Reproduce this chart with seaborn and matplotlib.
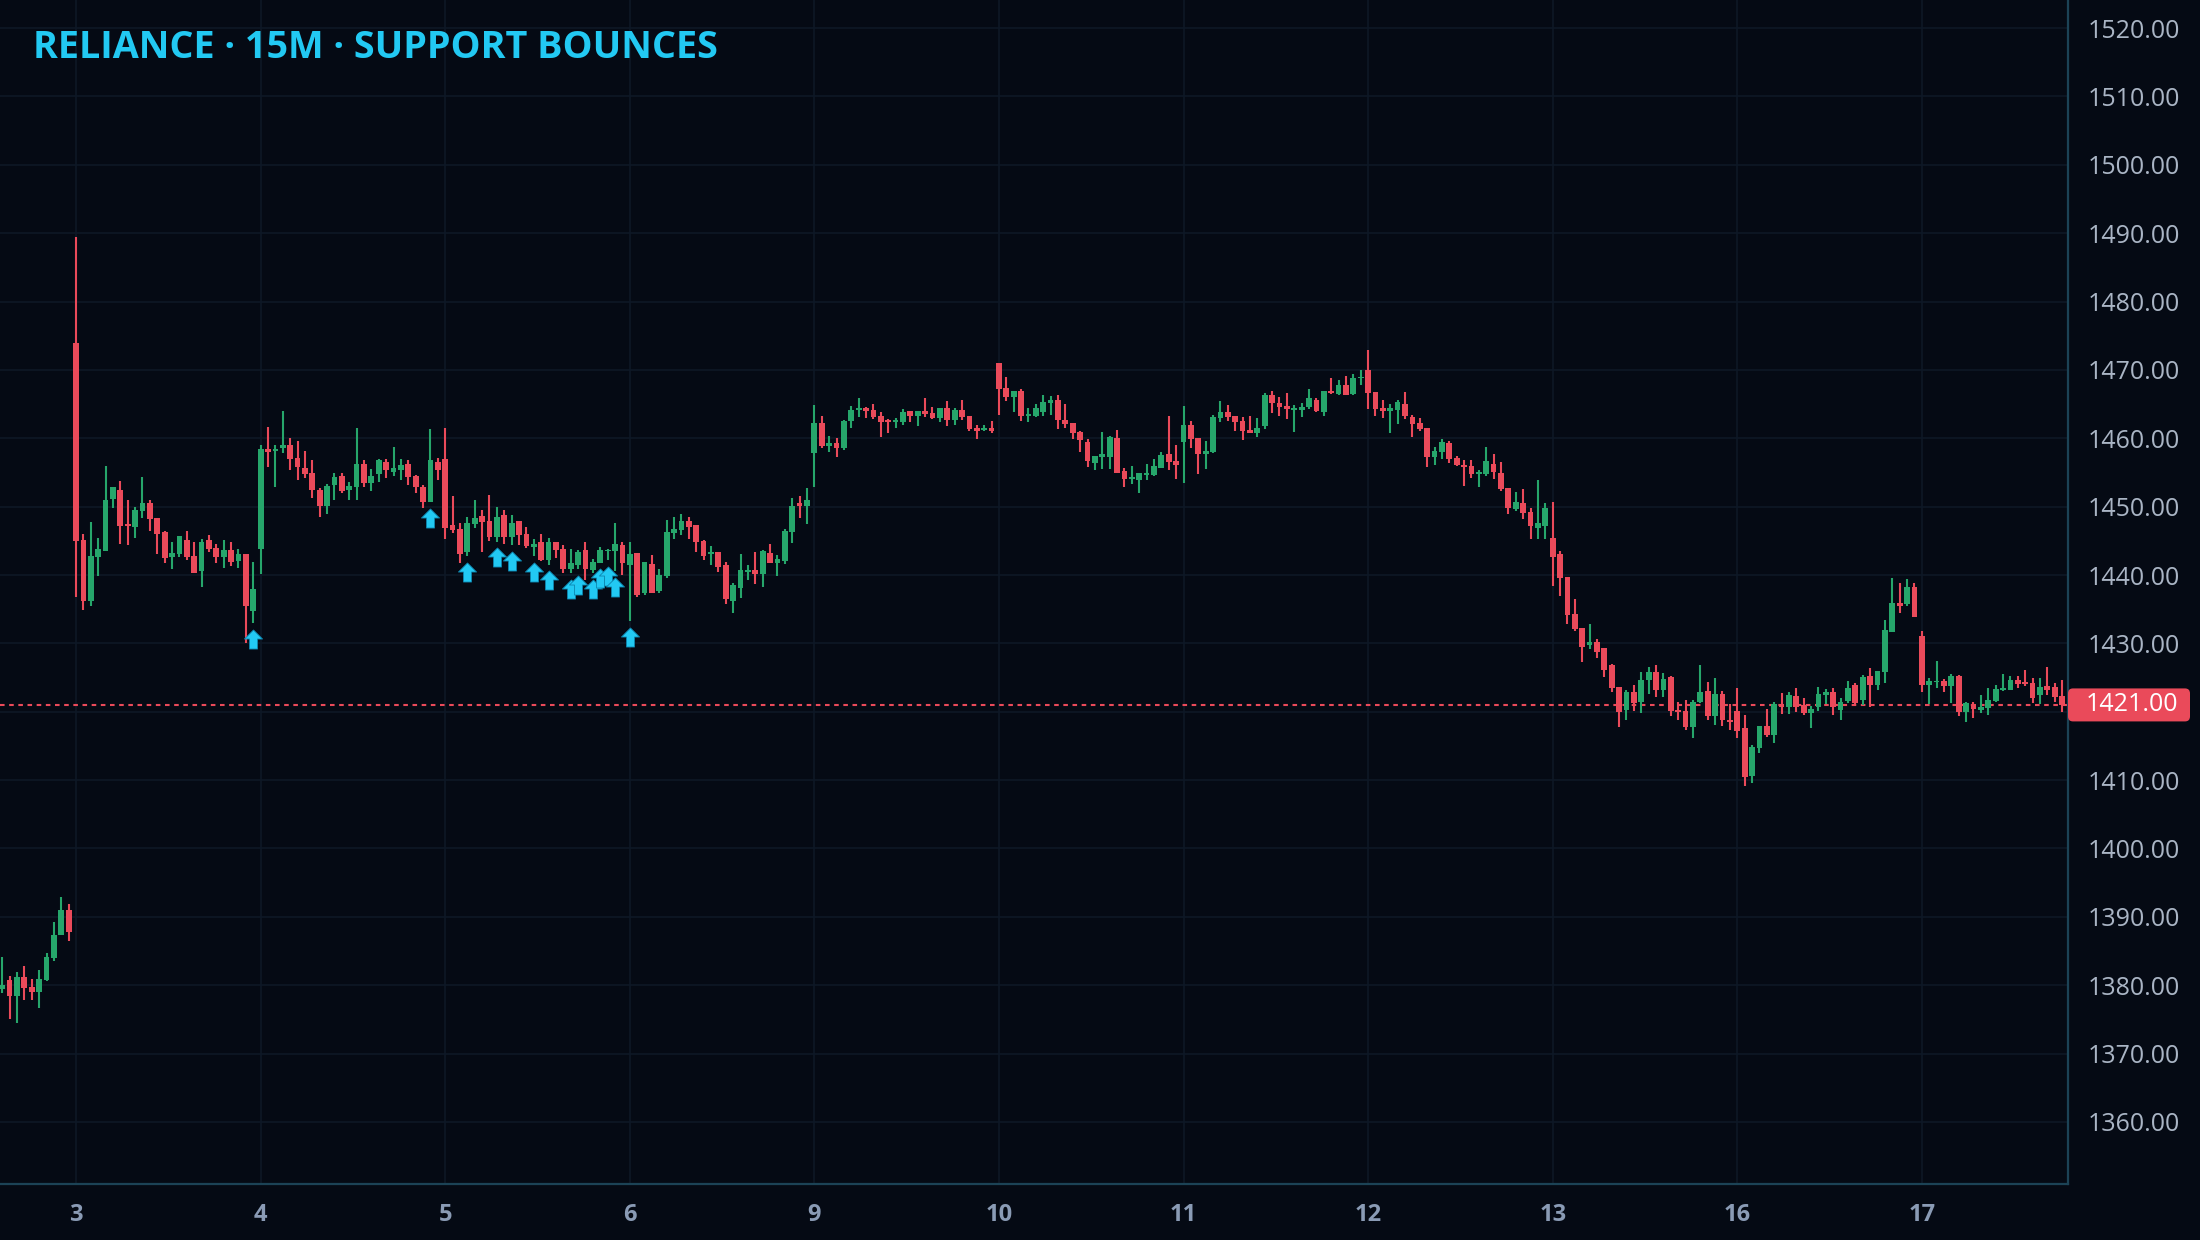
import numpy as np
import pandas as pd
import matplotlib
matplotlib.use("Agg")
import matplotlib.pyplot as plt
import seaborn as sns
from matplotlib.path import Path
from matplotlib.patches import FancyBboxPatch
from matplotlib.transforms import IdentityTransform

# ---------------- data ----------------
TITLE = "RELIANCE · 15M · SUPPORT BOUNCES"
DAY_LABELS = ["3", "4", "5", "6", "9", "10", "11", "12", "13", "16", "17"]
DAY_START = [10, 35, 60, 85, 110, 135, 160, 185, 210, 235, 260]
BOUNCE_IDX = [34, 58, 63, 67, 69, 72, 74, 77, 78, 80, 81, 82, 83, 85]
LAST_PRICE = 1421.00
Y_TICKS = [1360, 1370, 1380, 1390, 1400, 1410, 1420, 1430, 1440, 1450,
           1460, 1470, 1480, 1490, 1500, 1510, 1520]

OPEN = [
    1379.5, 1380.8, 1378.4, 1381.2, 1379.8, 1379.0, 1380.8, 1384.0, 1387.3, 1391.0,
    # 3
    1473.9, 1445.1, 1436.2, 1442.7, 1443.5, 1451.1, 1452.4, 1447.4, 1447.0, 1449.4,
    1450.5, 1448.3, 1446.3, 1442.6, 1443.0, 1445.1, 1442.8, 1440.6, 1445.1, 1444.0,
    1442.6, 1443.6, 1442.1, 1443.0, 1434.8,
    # 4
    1443.8, 1458.4, 1458.2, 1458.6, 1459.0, 1457.1, 1455.6, 1454.9, 1452.4, 1450.1,
    1453.2, 1454.5, 1452.5, 1452.8, 1456.2, 1453.5, 1454.8, 1456.5, 1455.1, 1455.4,
    1456.2, 1454.5, 1452.9, 1450.7, 1456.5,
    # 5
    1456.9, 1447.3, 1446.7, 1443.3, 1447.5, 1448.6, 1447.9, 1445.6, 1448.8, 1445.6,
    1447.9, 1446.0, 1444.1, 1444.8, 1442.2, 1444.8, 1443.8, 1440.9, 1441.4, 1443.6,
    1440.8, 1441.8, 1443.5, 1443.5, 1444.4,
    # 6
    1441.4, 1443.2, 1437.4, 1441.6, 1437.7, 1439.9, 1446.2, 1446.6, 1447.9, 1447.3,
    1445.0, 1443.1, 1443.3, 1441.4, 1436.2, 1438.1, 1440.5, 1440.8, 1440.1, 1443.2,
    1441.8, 1442.0, 1446.3, 1450.5, 1450.1,
    # 9
    1457.9, 1462.2, 1458.9, 1459.3, 1458.6, 1462.5, 1464.2, 1464.4, 1464.1, 1463.2,
    1462.6, 1462.4, 1462.4, 1464.0, 1463.3, 1464.0, 1463.7, 1463.0, 1464.4, 1462.7,
    1464.1, 1463.2, 1461.5, 1461.2, 1461.5,
    # 10
    1471.0, 1467.4, 1466.0, 1466.9, 1463.3, 1463.3, 1463.8, 1465.2, 1465.6, 1462.7,
    1462.2, 1460.9, 1459.4, 1456.4, 1457.3, 1457.3, 1460.0, 1455.2, 1454.1, 1453.9,
    1454.6, 1454.6, 1455.6, 1457.7, 1456.7,
    # 11
    1459.4, 1461.9, 1460.0, 1457.7, 1458.0, 1463.0, 1463.8, 1463.3, 1462.5, 1461.2,
    1460.8, 1461.8, 1466.3, 1465.1, 1464.7, 1464.1, 1464.1, 1464.6, 1465.6, 1463.8,
    1466.9, 1466.5, 1467.8, 1466.5, 1468.8,
    # 12
    1470.0, 1466.8, 1464.4, 1464.0, 1464.1, 1465.0, 1463.1, 1462.2, 1461.5, 1457.3,
    1458.0, 1459.3, 1457.1, 1456.1, 1455.9, 1454.8, 1454.8, 1456.2, 1454.9, 1452.7,
    1449.6, 1450.5, 1449.2, 1446.9, 1447.2,
    # 13
    1445.4, 1443.1, 1439.7, 1434.3, 1432.2, 1429.8, 1430.2, 1429.3, 1426.8, 1423.6,
    1420.2, 1422.9, 1421.4, 1424.6, 1425.8, 1423.2, 1425.1, 1420.3, 1420.1, 1417.8,
    1421.4, 1423.0, 1419.4, 1422.6, 1418.8,
    # 16
    1420.1, 1417.6, 1410.6, 1414.7, 1417.9, 1416.6, 1421.1, 1420.7, 1422.3, 1421.0,
    1419.8, 1420.7, 1422.5, 1422.9, 1420.3, 1421.6, 1423.9, 1421.7, 1425.2, 1423.9,
    1425.8, 1431.7, 1435.9, 1435.8, 1438.2,
    # 17
    1431.1, 1423.9, 1424.3, 1424.5, 1423.8, 1425.2, 1419.9, 1421.1, 1420.3, 1420.5,
    1421.6, 1423.2, 1423.2, 1424.6, 1424.2, 1424.2, 1422.4, 1423.7, 1423.6, 1422.3,
]

HIGH = [
    1384.1, 1381.3, 1381.9, 1382.8, 1380.9, 1382.2, 1384.7, 1389.3, 1392.9, 1391.9,
    # 3
    1489.4, 1446.0, 1447.8, 1445.4, 1456.0, 1452.8, 1453.7, 1451.0, 1449.9, 1454.4,
    1451.0, 1448.3, 1446.4, 1444.8, 1445.7, 1446.4, 1444.9, 1445.3, 1445.9, 1444.5,
    1445.1, 1444.9, 1443.8, 1443.0, 1441.9,
    # 4
    1459.0, 1461.6, 1459.0, 1464.0, 1460.0, 1459.6, 1458.1, 1456.8, 1452.7, 1453.3,
    1454.9, 1454.9, 1453.6, 1461.5, 1456.8, 1455.5, 1456.9, 1456.9, 1458.7, 1456.9,
    1456.8, 1454.6, 1453.1, 1461.3, 1457.1,
    # 5
    1461.5, 1451.5, 1447.6, 1448.5, 1450.9, 1449.5, 1451.7, 1449.9, 1449.5, 1448.8,
    1447.9, 1447.0, 1445.3, 1446.0, 1445.4, 1444.8, 1444.4, 1443.8, 1443.6, 1444.8,
    1442.4, 1444.1, 1443.8, 1447.6, 1444.8,
    # 6
    1444.9, 1443.2, 1441.9, 1442.9, 1440.9, 1448.0, 1448.5, 1448.9, 1448.5, 1447.3,
    1445.1, 1444.3, 1443.4, 1441.9, 1438.9, 1443.0, 1441.5, 1443.4, 1443.6, 1444.5,
    1442.9, 1446.7, 1451.3, 1451.5, 1452.7,
    # 9
    1464.9, 1463.3, 1460.3, 1460.0, 1462.7, 1464.7, 1465.9, 1464.6, 1465.0, 1463.8,
    1462.8, 1463.0, 1464.3, 1464.0, 1464.0, 1465.9, 1464.6, 1464.4, 1465.4, 1464.4,
    1465.6, 1463.2, 1461.9, 1461.9, 1462.5,
    # 10
    1471.0, 1469.0, 1466.9, 1467.2, 1464.4, 1465.0, 1466.3, 1466.2, 1466.3, 1465.0,
    1462.2, 1461.1, 1459.9, 1457.4, 1460.9, 1460.3, 1461.2, 1455.6, 1455.9, 1454.9,
    1456.2, 1456.9, 1458.0, 1463.3, 1459.0,
    # 11
    1464.7, 1462.5, 1460.0, 1459.6, 1463.4, 1465.4, 1464.9, 1463.3, 1463.1, 1463.3,
    1463.0, 1466.6, 1466.9, 1466.0, 1466.6, 1464.9, 1465.1, 1467.2, 1465.9, 1466.9,
    1468.8, 1468.5, 1469.1, 1469.4, 1470.0,
    # 12
    1472.9, 1466.8, 1465.6, 1465.0, 1465.6, 1466.8, 1463.4, 1463.0, 1461.5, 1458.7,
    1459.9, 1459.6, 1457.4, 1456.8, 1456.8, 1455.4, 1458.7, 1457.7, 1456.5, 1452.7,
    1452.1, 1452.6, 1449.8, 1453.9, 1450.5,
    # 13
    1450.7, 1443.5, 1439.7, 1436.5, 1432.2, 1432.8, 1430.6, 1429.3, 1427.0, 1423.6,
    1423.2, 1423.9, 1425.8, 1426.5, 1426.8, 1425.7, 1425.2, 1421.4, 1421.7, 1421.7,
    1426.8, 1424.3, 1424.9, 1423.0, 1421.1,
    # 16
    1423.5, 1419.5, 1415.1, 1417.9, 1420.4, 1421.4, 1422.7, 1422.9, 1423.5, 1422.0,
    1420.8, 1423.6, 1423.3, 1423.5, 1422.0, 1424.5, 1424.2, 1425.4, 1426.4, 1425.9,
    1433.4, 1439.6, 1438.8, 1439.4, 1438.8,
    # 17
    1431.8, 1424.9, 1427.4, 1424.8, 1425.5, 1425.4, 1421.4, 1421.4, 1422.4, 1423.5,
    1423.9, 1425.5, 1425.2, 1425.2, 1426.1, 1424.9, 1424.9, 1426.5, 1424.2, 1424.6,
]

LOW = [
    1378.9, 1375.0, 1374.5, 1377.9, 1377.8, 1376.6, 1380.6, 1383.5, 1387.3, 1386.5,
    # 3
    1436.8, 1434.9, 1435.5, 1439.9, 1443.5, 1449.8, 1444.6, 1444.4, 1445.4, 1448.3,
    1446.4, 1443.0, 1441.7, 1440.9, 1442.6, 1442.2, 1440.3, 1438.2, 1443.3, 1441.7,
    1441.0, 1441.3, 1441.0, 1430.1, 1433.0,
    # 4
    1440.2, 1455.8, 1452.9, 1457.8, 1455.4, 1453.9, 1454.2, 1451.3, 1448.5, 1448.9,
    1451.0, 1452.0, 1451.0, 1450.9, 1452.9, 1452.3, 1453.6, 1454.2, 1454.5, 1453.9,
    1453.1, 1452.0, 1449.8, 1450.7, 1453.9,
    # 5
    1445.3, 1446.2, 1441.8, 1442.8, 1446.9, 1443.4, 1445.0, 1444.9, 1444.6, 1444.4,
    1444.4, 1444.0, 1442.8, 1442.1, 1441.5, 1442.5, 1440.3, 1440.3, 1440.9, 1439.3,
    1440.3, 1441.8, 1442.2, 1440.6, 1440.0,
    # 6
    1433.3, 1436.8, 1437.1, 1437.3, 1437.3, 1439.6, 1445.3, 1445.9, 1445.3, 1443.4,
    1442.2, 1441.5, 1440.5, 1435.8, 1434.5, 1436.6, 1439.3, 1438.7, 1438.3, 1441.8,
    1439.9, 1441.6, 1444.7, 1448.4, 1447.5,
    # 9
    1452.9, 1458.6, 1458.0, 1457.3, 1458.3, 1461.5, 1463.1, 1463.0, 1462.8, 1460.2,
    1460.8, 1461.5, 1461.9, 1462.4, 1461.8, 1463.1, 1462.8, 1462.4, 1461.8, 1461.9,
    1462.7, 1461.1, 1459.9, 1461.1, 1460.8,
    # 10
    1463.4, 1465.4, 1463.8, 1462.5, 1462.4, 1463.1, 1463.3, 1463.4, 1461.4, 1461.5,
    1459.9, 1458.0, 1455.8, 1455.4, 1455.5, 1455.5, 1454.9, 1452.9, 1453.3, 1452.0,
    1453.9, 1454.5, 1455.6, 1455.4, 1454.0,
    # 11
    1453.5, 1458.6, 1454.8, 1455.5, 1457.8, 1462.4, 1462.5, 1461.1, 1459.7, 1460.8,
    1460.2, 1461.4, 1463.7, 1463.3, 1462.8, 1460.9, 1463.1, 1464.3, 1463.8, 1463.3,
    1466.5, 1466.3, 1466.3, 1466.3, 1467.8,
    # 12
    1464.3, 1463.3, 1463.0, 1460.8, 1462.1, 1462.8, 1460.2, 1461.1, 1455.8, 1456.1,
    1457.0, 1456.4, 1455.9, 1453.0, 1454.2, 1452.9, 1454.5, 1454.0, 1452.3, 1448.9,
    1449.4, 1448.2, 1445.3, 1445.3, 1445.3,
    # 13
    1438.4, 1436.9, 1432.8, 1431.8, 1427.3, 1429.2, 1427.9, 1425.1, 1422.9, 1417.8,
    1418.8, 1420.1, 1419.8, 1422.6, 1422.1, 1422.1, 1419.4, 1418.8, 1417.3, 1416.1,
    1421.3, 1418.8, 1418.1, 1417.9, 1417.3,
    # 16
    1416.1, 1409.2, 1409.6, 1414.0, 1416.3, 1415.4, 1419.7, 1419.7, 1419.9, 1419.5,
    1417.6, 1420.1, 1421.1, 1419.5, 1418.8, 1421.3, 1421.0, 1421.0, 1420.7, 1423.2,
    1424.2, 1431.7, 1434.4, 1435.5, 1433.9,
    # 17
    1422.9, 1421.1, 1423.5, 1422.9, 1421.3, 1419.4, 1418.5, 1419.1, 1419.8, 1419.5,
    1421.4, 1423.0, 1423.2, 1423.5, 1423.8, 1421.3, 1421.1, 1422.4, 1421.4, 1419.9,
]

CLOSE = [
    1380.1, 1378.4, 1381.2, 1379.6, 1379.0, 1380.9, 1384.1, 1387.4, 1391.0, 1387.8,
    # 3
    1445.0, 1436.2, 1442.8, 1443.8, 1451.0, 1452.8, 1447.2, 1447.1, 1449.5, 1450.5,
    1448.2, 1446.0, 1442.5, 1443.2, 1445.7, 1442.7, 1440.3, 1444.9, 1443.8, 1442.6,
    1443.6, 1441.9, 1443.0, 1435.5, 1437.9,
    # 4
    1458.4, 1458.0, 1458.4, 1459.0, 1457.0, 1455.8, 1454.8, 1452.5, 1450.1, 1453.0,
    1454.3, 1452.3, 1453.0, 1456.2, 1453.5, 1454.5, 1456.8, 1455.4, 1455.6, 1456.1,
    1454.4, 1452.9, 1450.7, 1456.8, 1455.3,
    # 5
    1446.9, 1446.6, 1443.1, 1447.6, 1448.3, 1447.8, 1445.6, 1448.5, 1445.6, 1447.6,
    1445.9, 1444.3, 1444.5, 1442.2, 1444.8, 1443.7, 1440.9, 1441.7, 1443.4, 1440.9,
    1441.9, 1443.6, 1443.7, 1444.5, 1441.8,
    # 6
    1443.0, 1437.1, 1441.9, 1437.4, 1440.0, 1446.3, 1446.7, 1447.9, 1447.0, 1444.9,
    1442.8, 1443.3, 1441.2, 1436.5, 1438.6, 1440.8, 1440.8, 1440.2, 1443.5, 1441.8,
    1442.3, 1446.4, 1450.1, 1450.1, 1451.0,
    # 9
    1462.2, 1458.9, 1459.3, 1458.6, 1462.5, 1464.1, 1464.3, 1464.0, 1463.1, 1462.4,
    1462.4, 1462.6, 1463.8, 1463.3, 1464.0, 1463.6, 1463.0, 1464.4, 1462.7, 1464.1,
    1463.1, 1461.4, 1461.1, 1461.5, 1461.1,
    # 10
    1467.2, 1466.0, 1466.9, 1463.2, 1463.4, 1464.4, 1465.3, 1465.6, 1462.7, 1462.1,
    1460.8, 1459.7, 1456.7, 1457.4, 1457.7, 1460.2, 1454.9, 1454.0, 1454.2, 1454.9,
    1454.9, 1455.9, 1457.5, 1456.5, 1456.1,
    # 11
    1461.9, 1459.9, 1457.7, 1458.1, 1463.1, 1463.8, 1463.1, 1462.4, 1461.1, 1460.8,
    1461.5, 1466.3, 1465.1, 1464.6, 1464.3, 1464.4, 1464.6, 1465.9, 1464.0, 1466.9,
    1466.6, 1467.8, 1466.3, 1468.8, 1469.0,
    # 12
    1466.6, 1464.3, 1464.0, 1464.4, 1465.3, 1463.3, 1462.1, 1461.3, 1457.3, 1458.1,
    1459.4, 1457.0, 1456.1, 1455.8, 1454.8, 1454.9, 1456.7, 1455.0, 1452.6, 1449.8,
    1450.7, 1449.1, 1447.2, 1447.6, 1449.8,
    # 13
    1442.6, 1439.6, 1434.1, 1432.1, 1429.5, 1430.2, 1428.7, 1426.1, 1423.5, 1420.0,
    1422.9, 1421.3, 1424.6, 1425.8, 1423.2, 1424.8, 1420.1, 1420.0, 1417.8, 1421.4,
    1422.9, 1419.4, 1422.6, 1418.8, 1418.5,
    # 16
    1417.2, 1410.5, 1414.8, 1417.9, 1416.6, 1421.1, 1420.7, 1422.4, 1420.7, 1419.8,
    1420.4, 1422.6, 1422.9, 1420.7, 1421.4, 1423.5, 1421.3, 1425.1, 1423.9, 1425.9,
    1431.9, 1435.9, 1435.5, 1438.2, 1433.9,
    # 17
    1423.9, 1424.5, 1424.5, 1423.8, 1425.2, 1420.0, 1421.3, 1420.4, 1420.7, 1421.7,
    1423.3, 1423.3, 1424.6, 1424.1, 1424.1, 1422.0, 1423.6, 1423.2, 1422.1, 1421.0,
]

# ---------------- style ----------------
BG = "#050a14"
GRID = "#0e1826"
SPINE = "#1c4356"
UP = "#26a66b"
DOWN = "#ea4a5a"
CYAN = "#22c9f3"
Y_TXT = "#aab5c5"
X_TXT = "#8a9bb5"

sns.set_theme(style="dark", rc={"axes.facecolor": BG, "figure.facecolor": BG})
plt.rcParams["font.family"] = ["Open Sans", "DejaVu Sans"]

df = pd.DataFrame({"open": OPEN, "high": HIGH, "low": LOW, "close": CLOSE})
df["i"] = np.arange(len(df))
df["up"] = df["close"] >= df["open"]
colors = np.where(df["up"], UP, DOWN)

fig = plt.figure(figsize=(11, 6.2), dpi=200, facecolor=BG)
ax = fig.add_axes([0.0, 0.04516, 0.94, 0.95484])
ax.set_facecolor(BG)

# candles: wicks + bodies
ax.vlines(df["i"], df["low"], df["high"], colors=colors, lw=0.75, zorder=3)
body_lo = np.minimum(df["open"], df["close"])
body_h = np.maximum((df["close"] - df["open"]).abs(), 0.22)
ax.bar(df["i"], body_h, bottom=body_lo, width=0.78, color=colors, linewidth=0, zorder=4)

# last price dashed line
ax.axhline(LAST_PRICE, color=DOWN, lw=0.75, ls=(0, (2.2, 2.2)), zorder=2)

# support bounce arrows (under the candle low)
arrow = Path([(0, 1), (-0.95, 0.05), (-0.42, 0.05), (-0.42, -1), (0.42, -1),
              (0.42, 0.05), (0.95, 0.05), (0, 1)],
             [Path.MOVETO] + [Path.LINETO] * 6 + [Path.CLOSEPOLY])
bounce = df.loc[BOUNCE_IDX, ["i", "low"]].copy()
bounce["y"] = bounce["low"] - 2.3
sns.scatterplot(data=bounce, x="i", y="y", marker=arrow, s=47, color=CYAN,
                edgecolor="#0d86b0", linewidth=0.3, zorder=5, legend=False, ax=ax)

# axes, ticks, grid
ax.set_xlim(-0.3, 279.8)
ax.set_ylim(1350.93, 1524.1)
ax.set_xticks(DAY_START)
ax.set_xticklabels(DAY_LABELS, fontweight="bold")
ax.set_yticks(Y_TICKS)
# the 1420 label sits under the last-price tag, so leave it blank
ax.set_yticklabels(["" if v == 1420 else f"{v:.2f}" for v in Y_TICKS])
ax.yaxis.tick_right()
ax.tick_params(axis="y", length=0, pad=7, labelsize=9, labelcolor=Y_TXT)
ax.tick_params(axis="x", length=0, pad=7, labelsize=8.5, labelcolor=X_TXT)
ax.grid(True, color=GRID, lw=0.6, zorder=0)
ax.set_axisbelow(True)
ax.set_xlabel("")
ax.set_ylabel("")
for side in ["top", "left"]:
    ax.spines[side].set_visible(False)
for side in ["right", "bottom"]:
    ax.spines[side].set_visible(True)
    ax.spines[side].set_color(SPINE)
    ax.spines[side].set_linewidth(0.8)

# title
fig.text(33 / 2200, 1 - 58 / 1240, TITLE, ha="left", va="baseline",
         fontsize=13.6, fontweight="bold", color=CYAN)

# last price tag on the price axis
y_px = ax.transData.transform((0, LAST_PRICE))[1]
x0 = ax.transAxes.transform((1, 0))[0]
tag = FancyBboxPatch((x0, y_px - 16.5), 122, 33, boxstyle="round,pad=0,rounding_size=5",
                     transform=IdentityTransform(), facecolor=DOWN, edgecolor="none",
                     zorder=10)
fig.add_artist(tag)
fig.text((x0 + 64) / 2200, y_px / 1240, f"{LAST_PRICE:.2f}", ha="center",
         va="center", fontsize=9, color="white", zorder=11)

fig.savefig("out.png", dpi=200, facecolor=BG)
